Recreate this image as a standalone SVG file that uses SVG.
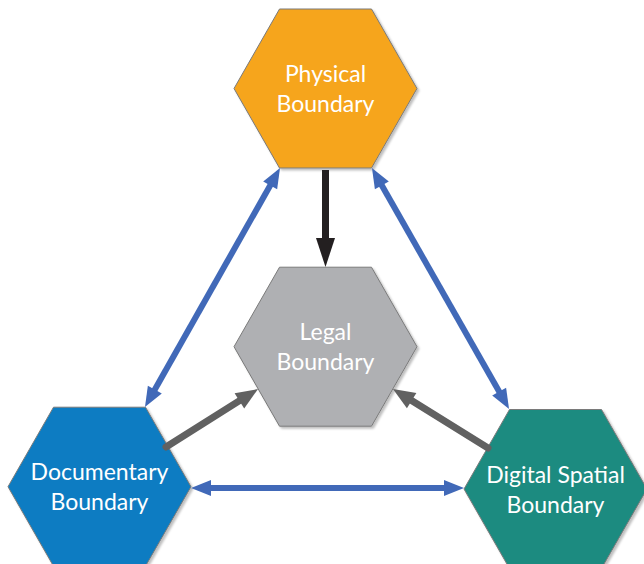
<svg xmlns="http://www.w3.org/2000/svg" width="644" height="564" viewBox="0 0 644 564">
<style>
.hex{stroke:#7a7a7a;stroke-width:1;filter:url(#sh)}
.lbl{font-family:Lato,"Open Sans","Liberation Sans",sans-serif;font-size:23px;fill:#ffffff;text-anchor:middle}
.blue{stroke:#4169b8;stroke-width:6;fill:none}
.gray{stroke:#616161;stroke-width:7;fill:none;stroke-linecap:round}
.blk{stroke:#231f20;stroke-width:7;fill:none}
</style>
<defs>
<filter id="sh" x="-10%" y="-10%" width="130%" height="130%">
<feDropShadow dx="2" dy="2" stdDeviation="1" flood-color="#000" flood-opacity="0.25"/>
</filter>
<polygon id="hx" points="-46,-79.5 46,-79.5 91.5,0 46,79.5 -46,79.5 -91.5,0"/>
<marker id="mb" markerUnits="userSpaceOnUse" orient="auto-start-reverse" refX="10" refY="0" overflow="visible" markerWidth="20" markerHeight="16">
<path d="M0,-8 L20,0 L0,8 z" fill="#4169b8"/>
</marker>
<marker id="mg" markerUnits="userSpaceOnUse" orient="auto" refX="11" refY="0" overflow="visible" markerWidth="22" markerHeight="18">
<path d="M0,-9 L22,0 L0,9 z" fill="#616161"/>
</marker>
<marker id="mk" markerUnits="userSpaceOnUse" orient="auto" refX="14" refY="0" overflow="visible" markerWidth="29" markerHeight="19">
<path d="M0,-9.5 L29,0 L0,9.5 z" fill="#231f20"/>
</marker>
</defs>
<g id="physical" transform="translate(325.5,88.5)">
<use href="#hx" class="hex" fill="#f6a51f"/>
<text class="lbl" x="0" y="-7">Physical</text>
<text class="lbl" x="0" y="23">Boundary</text>
</g>
<g id="legal" transform="translate(325.5,346.7)">
<use href="#hx" class="hex" fill="#afb0b3"/>
<text class="lbl" x="0" y="-6.7">Legal</text>
<text class="lbl" x="0" y="23.3">Boundary</text>
</g>
<g id="documentary" transform="translate(99.5,486.7)">
<use href="#hx" class="hex" fill="#0a7cc2"/>
<text class="lbl" x="0" y="-6.7">Documentary</text>
<text class="lbl" x="0" y="23.3">Boundary</text>
</g>
<g id="digital" transform="translate(555.5,489)">
<use href="#hx" class="hex" fill="#1f8b80"/>
<text class="lbl" x="0" y="-6">Digital Spatial</text>
<text class="lbl" x="0" y="24">Boundary</text>
</g>
<g id="connectors">
<line class="blk" x1="325.5" y1="170" x2="325.5" y2="252" marker-end="url(#mk)"/>
<line class="blue" x1="275.1" y1="176.7" x2="149.9" y2="398.3" marker-start="url(#mb)" marker-end="url(#mb)"/>
<line class="blue" x1="376.9" y1="176.7" x2="504.1" y2="400.3" marker-start="url(#mb)" marker-end="url(#mb)"/>
<line class="blue" x1="201" y1="488" x2="454" y2="488" marker-start="url(#mb)" marker-end="url(#mb)"/>
<line class="gray" x1="166" y1="447" x2="248.7" y2="394.9" marker-end="url(#mg)"/>
<line class="gray" x1="488" y1="448" x2="402.3" y2="394.8" marker-end="url(#mg)"/>
</g>
</svg>
